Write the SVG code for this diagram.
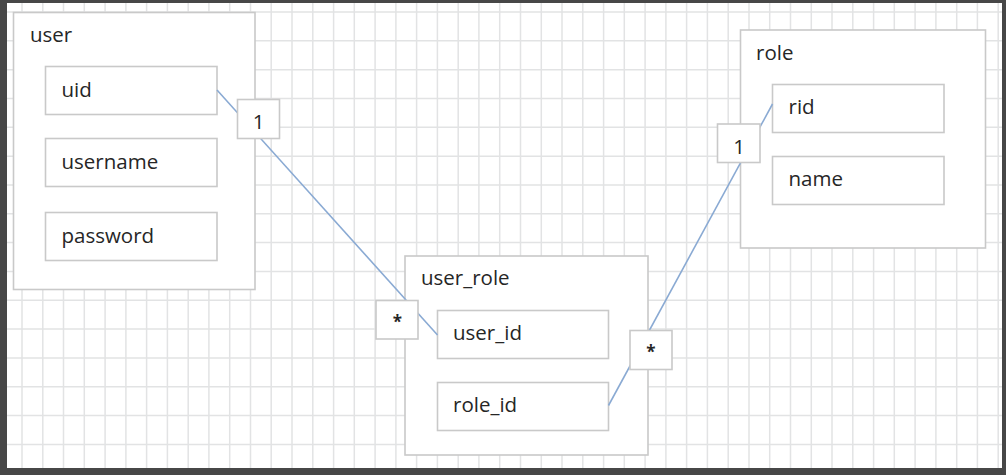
<svg xmlns="http://www.w3.org/2000/svg" width="1006" height="475" viewBox="0 0 1006 475">
<style>
.frame{fill:#474747}
.grid{stroke:#e2e3e4;stroke-width:1.5;fill:none}
.box{fill:#fff;stroke:#c9c9c9;stroke-width:1.6}
.lbl{fill:#fff;stroke:#c9c9c9;stroke-width:1.6}
.t{font-family:"Open Sans","Noto Sans",sans-serif;font-size:20.5px;fill:#262626}
.c{text-anchor:middle}
.s{font-size:17px;font-weight:bold}
.conn{stroke:#8aaad3;stroke-width:1.6;fill:none}
</style>
<rect class="frame" x="0" y="0" width="1006" height="475"/>
<rect x="7" y="3" width="995" height="465" fill="#fff"/>
<path class="grid" d="M22 3V468M42.8 3V468M63.5 3V468M84.3 3V468M105.1 3V468M125.9 3V468M146.6 3V468M167.4 3V468M188.2 3V468M208.9 3V468M229.7 3V468M250.5 3V468M271.2 3V468M292 3V468M312.8 3V468M333.6 3V468M354.3 3V468M375.1 3V468M395.9 3V468M416.6 3V468M437.4 3V468M458.2 3V468M478.9 3V468M499.7 3V468M520.5 3V468M541.3 3V468M562 3V468M582.8 3V468M603.6 3V468M624.3 3V468M645.1 3V468M665.9 3V468M686.6 3V468M707.4 3V468M728.2 3V468M749 3V468M769.7 3V468M790.5 3V468M811.3 3V468M832 3V468M852.8 3V468M873.6 3V468M894.3 3V468M915.1 3V468M935.9 3V468M956.7 3V468M977.4 3V468M998.2 3V468M7 12H1002M7 40.8H1002M7 69.7H1002M7 98.5H1002M7 127.3H1002M7 156.2H1002M7 185H1002M7 213.8H1002M7 242.6H1002M7 271.5H1002M7 300.3H1002M7 329.1H1002M7 358H1002M7 386.8H1002M7 415.6H1002M7 444.5H1002"/>

<g id="user">
<rect class="box" x="13.5" y="12.5" width="241.5" height="277"/>
<text class="t" x="30" y="42">user</text>
<rect class="box" x="45.5" y="66.5" width="171.5" height="48"/>
<text class="t" x="61.5" y="97">uid</text>
<rect class="box" x="45.5" y="138.5" width="171.5" height="48"/>
<text class="t" x="61.5" y="169">username</text>
<rect class="box" x="45.5" y="212.5" width="171.5" height="48"/>
<text class="t" x="61.5" y="243">password</text>
</g>

<g id="role">
<rect class="box" x="740.5" y="30" width="245" height="218"/>
<text class="t" x="756" y="60">role</text>
<rect class="box" x="772.5" y="84.5" width="171.5" height="48"/>
<text class="t" x="788.5" y="114">rid</text>
<rect class="box" x="772.5" y="156.5" width="171.5" height="48"/>
<text class="t" x="788.5" y="186">name</text>
</g>

<g id="user_role">
<rect class="box" x="405" y="256" width="243" height="199"/>
<text class="t" x="421" y="285">user_role</text>
<rect class="box" x="437.5" y="310.5" width="171" height="48"/>
<text class="t" x="453" y="340">user_id</text>
<rect class="box" x="437.5" y="382.5" width="171" height="48"/>
<text class="t" x="453" y="412">role_id</text>
</g>

<g id="connectors">
<path class="conn" d="M217 90L437.5 335"/>
<path class="conn" d="M772.5 104L608.5 405.5"/>
<rect class="lbl" x="237.5" y="99.5" width="42" height="39"/>
<text class="t c" x="258.5" y="129">1</text>
<rect class="lbl" x="717.5" y="124" width="42.5" height="38.5"/>
<text class="t c" x="739" y="154">1</text>
<rect class="lbl" x="376" y="300.5" width="42" height="38.5"/>
<text class="t c s" x="397.5" y="328">*</text>
<rect class="lbl" x="630" y="330.5" width="42" height="39"/>
<text class="t c s" x="651" y="358">*</text>
</g>
</svg>
